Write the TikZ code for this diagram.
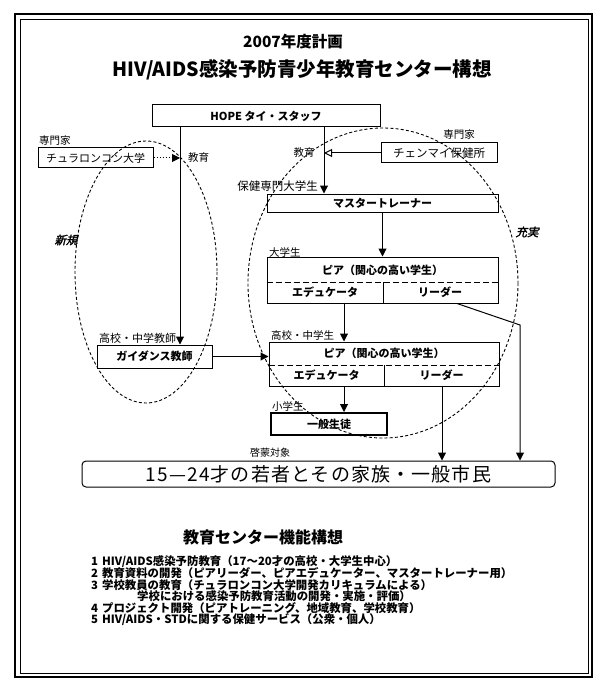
\documentclass[tikz,border=0pt]{standalone}
\usepackage{fontspec}
\setmainfont{Noto Sans CJK JP}
\newfontfamily\slantjp[FakeSlant=0.25,FakeBold=2]{Noto Sans CJK JP}
\usetikzlibrary{arrows.meta,calc}
\begin{document}
\begin{tikzpicture}[x=1pt,y=-1pt,
  box/.style={draw, line width=1pt, inner sep=0pt, font=\fontsize{11}{13}\selectfont},
  lbl/.style={inner sep=0pt, font=\fontsize{10.5}{12}\selectfont},
  cell/.style={inner sep=0pt, font=\fontsize{11}{13}\bfseries\selectfont},
  arr/.style={line width=1pt, -{Triangle[length=8pt,width=8pt]}},
  ell/.style={dash pattern=on 3pt off 2.2pt, line width=0.9pt},
  sep/.style={line width=1pt, dash pattern=on 6pt off 3pt},
  item/.style={anchor=west, inner sep=0pt, font=\fontsize{11.4}{13}\bfseries\selectfont}
]
\useasboundingbox (0,0) rectangle (595,679);
\fill[white] (0,0) rectangle (595,679);
% frame
\draw[line width=1.3pt] (15,14) rectangle (592,677);
\draw[line width=0.8pt] (20,19) rectangle (588,673);

% titles
\node[inner sep=0pt, font=\fontsize{15.5}{18}\bfseries\selectfont] (t1) at (293,42) {2007年度計画};
\node[inner sep=0pt, font=\fontsize{19.5}{22}\bfseries\selectfont] (t2) at (302,70) {HIV/AIDS感染予防青少年教育センター構想};

% ellipses
\draw[ell] (146,272) ellipse [x radius=71, y radius=131];
\draw[ell] (383,283) ellipse [x radius=135, y radius=155];
\node[inner sep=0pt, font=\fontsize{11.5}{13}\slantjp] (newl) at (66,240) {新規};
\node[inner sep=0pt, font=\fontsize{11.5}{13}\slantjp] (full) at (527,232) {充実};

% boxes
\node[box, minimum width=228, minimum height=22] (hope) at (266,116) {\bfseries HOPE タイ・スタッフ};
\node[box, minimum width=115, minimum height=20] (chula) at (95.5,158) {チュラロンコン大学};
\node[box, minimum width=116, minimum height=20, font=\fontsize{11.5}{13}\selectfont] (chiang) at (439,153) {チェンマイ保健所};
\node[box, minimum width=231, minimum height=18] (master) at (382.5,203) {\bfseries マスタートレーナー};
\node[box, minimum width=231, minimum height=46] (upeer) at (382.5,280) {};
\node[box, minimum width=230, minimum height=44] (hpeer) at (384,364) {};
\node[box, minimum width=115, minimum height=23] (guide) at (154.5,356.5) {\bfseries ガイダンス教師};
\node[box, line width=2pt, minimum width=116, minimum height=22] (ippan) at (329,424) {\bfseries 一般生徒};
\node[box, rounded corners=4pt, minimum width=473, minimum height=26, font=\fontsize{19}{22}\addfontfeature{LetterSpace=6}\selectfont] (big) at (318.5,474) {15—24才の若者とその家族・一般市民};

% inner parts of peer boxes
\coordinate (usep) at (0,282);
\coordinate (udiv) at (383,282);
\draw[sep] (upeer.west |- usep) -- (upeer.east |- usep);
\draw[line width=1pt] (udiv) -- (udiv |- upeer.south);
\node[cell] (upt) at (382.5,270) {ピア（関心の高い学生）};
\node[cell] (upe) at (325,292.5) {エデュケータ};
\node[cell] (upl) at (440,292.5) {リーダー};

\coordinate (hsep) at (0,365);
\coordinate (hdiv) at (384,365);
\draw[sep] (hpeer.west |- hsep) -- (hpeer.east |- hsep);
\draw[line width=1pt] (hdiv) -- (hdiv |- hpeer.south);
\node[cell] (hpt) at (384,353.5) {ピア（関心の高い学生）};
\node[cell] (hpe) at (326.5,375.5) {エデュケータ};
\node[cell] (hpl) at (441.5,375.5) {リーダー};

% labels
\node[lbl, anchor=west] (sl) at (39,141) {専門家};
\node[lbl, anchor=west] (edl) at (188,158) {教育};
\node[lbl] (sr) at (459,135) {専門家};
\node[lbl] (edr) at (304,153) {教育};
\node[lbl, anchor=east, font=\fontsize{11.5}{13}\selectfont] (hoken) at (318,186) {保健専門大学生};
\node[lbl, anchor=west] (daig) at (269,252) {大学生};
\node[lbl, anchor=west] (kouc) at (271,335) {高校・中学生};
\node[lbl, anchor=west] (shog) at (272,406) {小学生};
\node[lbl, anchor=west, font=\fontsize{11}{13}\selectfont] (kyoshi) at (99,338) {高校・中学教師};
\node[lbl, font=\fontsize{10}{12}\selectfont] (keimo) at (270,453) {啓蒙対象};

% connectors
\coordinate (cL) at (180,0);
\coordinate (cR) at (324,0);
\coordinate (cE) at (344,0);
\coordinate (ul) at (457,0);
\coordinate (hl) at (442,0);
\coordinate (bend) at (520,325);
\draw[arr] (hope.south -| cL) -- (guide.north -| cL);
\draw[arr] (hope.south -| cR) -- (master.north -| cR);
\draw[line width=1pt, dotted, -{Triangle[length=8pt,width=8pt]}] (chula.east) -- (chula.east -| cL);
\draw[line width=1pt, -{Triangle[open,length=8pt,width=8pt]}] (chiang.west) -- (chiang.west -| cR);
\draw[arr] (master.south) -- (upeer.north);
\draw[arr] (upeer.south -| cE) -- (hpeer.north -| cE);
\draw[arr] (hpeer.south -| cE) -- (ippan.north -| cE);
\draw[arr] (upeer.south -| ul) -- (bend) -- (big.north -| bend);
\draw[arr] (hpeer.south -| hl) -- (big.north -| hl);
\draw[arr] (guide.east) -- (guide.east -| hpeer.west);

% bottom section
\node[inner sep=0pt, font=\fontsize{16}{18}\bfseries\selectfont] (ctitle) at (263,537) {教育センター機能構想};
\node[item] (i1) at (91,562) {1\hspace{4pt}HIV/AIDS感染予防教育（17～20才の高校・大学生中心）};
\node[item] (i2) at (91,573.5) {2\hspace{4pt}教育資料の開発（ピアリーダー、ピアエデュケーター、マスタートレーナー用）};
\node[item] (i3) at (91,585) {3\hspace{4pt}学校教員の教育（チュラロンコン大学開発カリキュラムによる）};
\node[item] (i3b) at (137,596.5) {学校における感染予防教育活動の開発・実施・評価）};
\node[item] (i4) at (91,608) {4\hspace{4pt}プロジェクト開発（ピアトレーニング、地域教育、学校教育）};
\node[item] (i5) at (91,620) {5\hspace{4pt}HIV/AIDS・STDに関する保健サービス（公衆・個人）};
\end{tikzpicture}
\end{document}
